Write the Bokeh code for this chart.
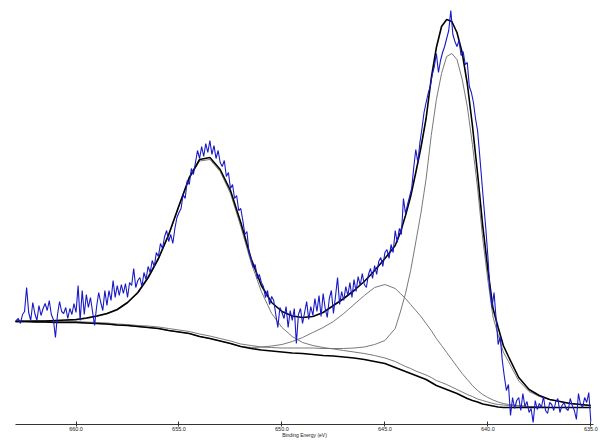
from bokeh.plotting import figure
from bokeh.models import Range1d, FixedTicker, PrintfTickFormatter
from bokeh.embed import file_html
from bokeh.resources import INLINE

# ---- raw spectrum (Mn 2p region), 0.1 eV step from 662.9 eV down to 635.0 eV ----
raw_start = 662.9
raw_step = 0.1
raw_counts = [
    104, 106, 101, 110, 113, 137, 112, 104, 122, 111,
    104, 119, 109, 116, 121, 114, 124, 110, 105, 87,
    110, 123, 113, 111, 117, 106, 116, 110, 121, 112,
    139, 104, 134, 110, 130, 117, 127, 113, 99, 118,
    132, 122, 114, 134, 119, 134, 124, 144, 127, 139,
    129, 140, 131, 141, 127, 142, 139, 156, 137, 144,
    147, 138, 152, 145, 158, 152, 164, 158, 172, 168,
    181, 176, 188, 194, 183, 190, 181, 196, 207, 212,
    216, 230, 226, 244, 240, 256, 250, 262, 274, 266,
    278, 268, 281, 272, 284, 270, 279, 266, 274, 262,
    258, 264, 248, 252, 236, 240, 226, 229, 214, 216,
    204, 190, 193, 172, 166, 157, 160, 146, 150, 142,
    138, 127, 134, 120, 128, 124, 110, 97, 117, 112,
    106, 118, 97, 114, 104, 116, 81, 110, 116, 101,
    112, 123, 105, 118, 109, 126, 113, 129, 108, 131,
    116, 107, 126, 134, 111, 128, 147, 120, 133, 124,
    138, 129, 142, 127, 145, 133, 148, 139, 151, 140,
    137, 150, 156, 146, 159, 150, 163, 167, 158, 172,
    175, 166, 180, 172, 194, 182, 196, 190, 226, 211,
    220, 228, 236, 257, 275, 262, 282, 296, 312, 322,
    331, 338, 350, 358, 371, 352, 364, 372, 378, 386,
    394, 414, 390, 383, 378, 384, 369, 373, 360, 362,
    338, 332, 322, 306, 294, 270, 245, 220, 196, 168,
    135, 117, 132, 106, 80, 88, 64, 48, 34, 40,
    9, 27, 16, 24, 27, 14, 31, 18, 23, 12,
    16, 2, 24, 15, 21, 17, 28, 14, 11, 22,
    20, 14, 23, 26, 12, 19, 22, 16, 14, 26,
    19, 14, 5, 31, 20, 17, 27, 22, 32, 3,
]
raw_be = [round(raw_start - raw_step * i, 2) for i in range(len(raw_counts))]

# ---- fitted curves, sampled energies ----
fit_be = [663.0, 662.5, 662.0, 661.5, 661.0, 660.5, 660.0, 659.5, 659.0, 658.5,
          658.0, 657.5, 657.0, 656.5, 656.0, 655.5, 655.0, 654.5, 654.0, 653.5,
          653.0, 652.5, 652.0, 651.5, 651.0, 650.5, 650.0, 649.5, 649.0, 648.5,
          648.0, 647.5, 647.0, 646.5, 646.0, 645.5, 645.0,
          644.5, 644.25, 644.0, 643.75, 643.5, 643.25, 643.0, 642.75, 642.5, 642.25,
          642.0, 641.75, 641.5, 641.25, 641.0, 640.75, 640.5, 640.25, 640.0, 639.75,
          639.5, 639.25, 639.0,
          638.5, 638.0, 637.5, 637.0, 636.5, 636.0, 635.5, 635.0]

background = [103, 103, 102.5, 102.5, 102, 102, 102, 101.5, 101, 100.5,
              99.5, 99, 98, 97, 96, 94, 92.5, 91, 88, 86,
              83.5, 81, 78, 76, 74.5, 73.5, 72.5, 71.5, 71, 70,
              69, 68.5, 67.5, 66.5, 65, 63, 61,
              57, 55, 53, 51, 49, 47, 45, 42, 39, 37,
              35, 33, 31, 28.5, 26, 24, 22.5, 20.5, 19.5, 18.5,
              17.5, 17, 17,
              17, 17, 17, 17, 17, 17, 17, 17]

envelope = [103, 103, 103.5, 103.5, 104, 104.5, 105, 106.5, 108.5, 111,
            115, 122, 132, 147, 166, 190, 219, 247, 265, 267,
            255, 234, 202, 166, 139, 122, 113, 108.5, 107, 108,
            112, 119, 126, 134, 143, 154, 166,
            179, 192, 209, 228, 252, 277, 306, 346, 377, 398,
            405, 403, 392, 372, 341, 299, 251, 199, 155, 116,
            97, 79, 68,
            47, 35, 29, 25, 23, 21, 20, 19]

peak_2p12 = [103, 103, 103, 103, 103.5, 104, 104.5, 106, 108, 110.5,
             114.5, 121.5, 131, 146, 165, 189, 218, 246, 263.5, 265,
             253, 231, 198, 162, 133, 111, 97, 88, 82, 79,
             77, 75.5, 74, 72.5, 71, 69, 66.5,
             63, 60.5, 58, 56, 53.5, 51.5, 49.5, 47, 44, 42,
             40, 37.5, 35, 32.5, 30, 28, 25.5, 24, 22.5, 21,
             20, 19.5, 19,
             18.5, 18, 17.5, 17, 17, 17, 17, 17]

satellite = [103, 103, 102.5, 102.5, 102, 102, 102, 101.5, 101, 100.5,
             99.5, 99, 98, 97, 96, 94, 92.5, 91, 88, 86,
             83.5, 81, 78, 77, 77.5, 78.5, 80, 83, 87, 92,
             97, 103, 111, 120, 129, 137, 140,
             136, 131, 126, 120, 114, 108, 101, 94, 86, 79,
             72, 65, 58, 51, 45, 39, 34, 30, 27, 24.5,
             22.5, 21, 20,
             19, 18, 17.5, 17, 17, 17, 17, 17]

peak_2p32 = [104, 104, 103.5, 103.5, 103, 103, 103, 102.5, 102, 101.5,
             100.5, 100, 99, 98.5, 97.5, 96, 94.5, 93, 90.5, 88.5,
             86, 83.5, 80.5, 79, 77.5, 77, 76.5, 76.5, 76.5, 76.5,
             76, 76, 76, 76.5, 77.5, 80, 84,
             96, 112.5, 131, 154, 182.5, 211.5, 245.5, 289, 325, 351,
             368, 371, 365, 345.5, 318, 280, 236.5, 186, 144.5, 107.5,
             89.5, 72.5, 63,
             43.5, 33, 28, 25, 23, 21, 20, 19]

tick_values = [660.0, 655.0, 650.0, 645.0, 640.0, 635.0]
x_label = "Binding Energy (eV)"

p = figure(width=600, height=442,
           x_range=Range1d(662.94, 634.87), y_range=Range1d(0, 424),
           output_backend="svg", toolbar_location=None,
           y_axis_location=None,
           min_border_left=15, min_border_right=7, min_border_top=0, min_border_bottom=18)
p.outline_line_color = None
p.grid.visible = False
p.background_fill_color = "white"
p.border_fill_color = "white"

comp_color = "#6a6a6a"
for comp in (peak_2p12, satellite, peak_2p32):
    p.line(fit_be, comp, line_color=comp_color, line_width=0.9)
p.line(fit_be, background, line_color="black", line_width=1.6)
p.line(fit_be, envelope, line_color="black", line_width=1.6)
p.line(raw_be, raw_counts, line_color="#1818c8", line_width=1.1)

ax = p.xaxis[0]
ax.ticker = FixedTicker(ticks=tick_values, minor_ticks=[])
ax.formatter = PrintfTickFormatter(format="%.1f")
ax.axis_label = x_label
ax.axis_line_color = "#333333"
ax.axis_line_width = 1
ax.major_tick_line_color = "#333333"
ax.major_tick_in = 3
ax.major_tick_out = 2
ax.minor_tick_line_color = None
ax.major_label_text_font = "Liberation Sans"
ax.major_label_text_font_size = "5.5px"
ax.major_label_text_color = "#222222"
ax.major_label_standoff = 0
ax.axis_label_text_font = "Liberation Sans"
ax.axis_label_text_font_size = "5px"
ax.axis_label_text_font_style = "normal"
ax.axis_label_text_color = "#222222"
ax.axis_label_standoff = -2

open("out.html", "w").write(file_html(p, INLINE))
